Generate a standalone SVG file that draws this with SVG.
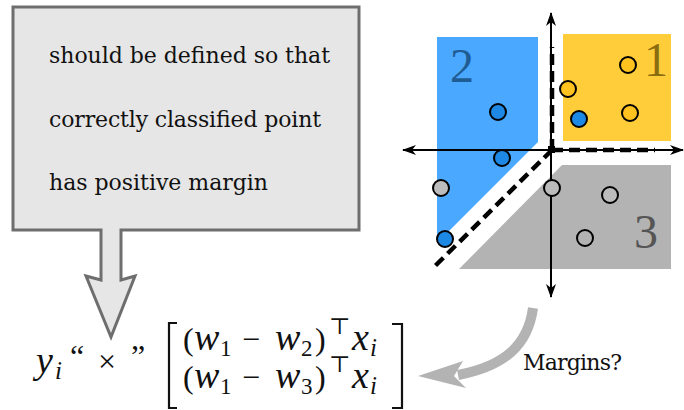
<svg xmlns="http://www.w3.org/2000/svg" width="684" height="410" viewBox="0 0 684 410">
<defs>
<style>
.txt{font-family:"DejaVu Serif","Liberation Serif",serif;fill:#111;}
.m{font-family:"Liberation Serif","DejaVu Serif",serif;fill:#111;font-size:32px;}
.it{font-style:italic;font-size:38px;}
.sub{font-size:23px;font-style:normal;}
.isub{font-size:25px;font-style:italic;}
.axis{stroke:#000;stroke-width:2;fill:none;}
.dash{stroke:#000;stroke-width:4.5;stroke-dasharray:11 6;fill:none;}
.pt{stroke:#000;stroke-width:2;}
.big{font-family:"Liberation Serif","DejaVu Serif",serif;font-size:48px;}
</style>
<marker id="ah" viewBox="0 0 14 10" refX="13" refY="5" markerWidth="14" markerHeight="10" markerUnits="userSpaceOnUse" orient="auto-start-reverse">
<path d="M0,0 L14,5 L0,10 L4,5 Z" fill="#000"/>
</marker>
</defs>
<rect width="684" height="410" fill="#fff"/>

<g id="callout">
<path d="M13,7 H359 V230 H121 V280 L135,276 L111,337 L86,276 L101,280 V230 H13 Z" fill="#e6e6e6" stroke="#6e6e6e" stroke-width="3" stroke-linejoin="miter"/>
<text class="txt" x="49" y="63" font-size="22" textLength="281">should be defined so that</text>
<text class="txt" x="49" y="127" font-size="22" textLength="272">correctly classified point</text>
<text class="txt" x="49" y="190" font-size="22" textLength="219">has positive margin</text>
</g>

<g id="plot">
<polygon points="437,37 538,37 538,142 437,243" fill="#4aa8ff"/>
<rect x="563" y="34" width="108" height="107" fill="#ffcc3a"/>
<polygon points="562,165 671,165 671,269 459,269" fill="#b3b3b3"/>
<text class="big" x="450" y="82" fill="#1f5c94">2</text>
<text class="big" x="644" y="76" fill="#8a6c10">1</text>
<text class="big" x="634" y="248" fill="#555">3</text>
<line class="axis" x1="551" y1="297" x2="551" y2="13" marker-start="url(#ah)" marker-end="url(#ah)"/>
<line class="axis" x1="403" y1="150" x2="683" y2="150" marker-start="url(#ah)" marker-end="url(#ah)"/>
<path class="dash" d="M552,150 V47"/>
<path class="dash" d="M552,150 H655"/>
<path class="dash" d="M552,150 L433,268"/>
<rect x="548" y="146" width="7" height="7" fill="#000"/>
</g>

<g id="points">
<circle class="pt" cx="628" cy="65" r="8" fill="#ffc21f"/>
<circle class="pt" cx="568" cy="89" r="8" fill="#ffc21f"/>
<circle class="pt" cx="630" cy="113" r="8" fill="#ffc21f"/>
<circle class="pt" cx="498" cy="112" r="8" fill="#1e88e5"/>
<circle class="pt" cx="579" cy="119" r="8" fill="#1e88e5"/>
<circle class="pt" cx="502" cy="158" r="8" fill="#1e88e5"/>
<circle class="pt" cx="445" cy="239" r="8" fill="#1e88e5"/>
<circle class="pt" cx="441" cy="188" r="8" fill="#bcbcbc"/>
<circle class="pt" cx="552" cy="188" r="8" fill="#bcbcbc"/>
<circle class="pt" cx="610" cy="195" r="8" fill="#bcbcbc"/>
<circle class="pt" cx="585" cy="238" r="8" fill="#b3b3b3"/>
</g>

<g id="formula">
<text class="m"><tspan class="it" x="36" y="373">y</tspan><tspan class="isub" x="55" y="379">i</tspan></text>
<text class="m" x="70" y="367" font-size="28">“</text>
<text class="m" x="98" y="372" font-size="36">×</text>
<text class="m" x="131" y="367" font-size="28">”</text>
<path d="M177,323 H169 V408 H177 M392,324 H402 V408 H392" fill="none" stroke="#111" stroke-width="2.2"/>
<text class="m"><tspan x="183" y="350">(</tspan><tspan class="it" x="194" y="350">w</tspan><tspan class="sub" x="220" y="356">1</tspan><tspan x="242" y="350">−</tspan><tspan class="it" x="275" y="350">w</tspan><tspan class="sub" x="301" y="356">2</tspan><tspan x="315" y="350">)</tspan><tspan class="sub" x="329" y="334">⊤</tspan><tspan class="it" x="352" y="350">x</tspan><tspan class="isub" x="370" y="356">i</tspan></text>
<text class="m"><tspan x="183" y="388">(</tspan><tspan class="it" x="194" y="388">w</tspan><tspan class="sub" x="220" y="394">1</tspan><tspan x="242" y="388">−</tspan><tspan class="it" x="275" y="388">w</tspan><tspan class="sub" x="301" y="394">3</tspan><tspan x="315" y="388">)</tspan><tspan class="sub" x="329" y="372">⊤</tspan><tspan class="it" x="352" y="388">x</tspan><tspan class="isub" x="370" y="394">i</tspan></text>
</g>

<g id="margins-label">
<text class="txt" x="523" y="370" font-size="22" textLength="99">Margins?</text>
</g>

<g id="connectors">
<path d="M533,308 C528,345 505,366 458,375" fill="none" stroke="#b3b3b3" stroke-width="10"/>
<polygon points="418,376 463,361 454,376 466,388" fill="#b3b3b3"/>
</g>
</svg>
